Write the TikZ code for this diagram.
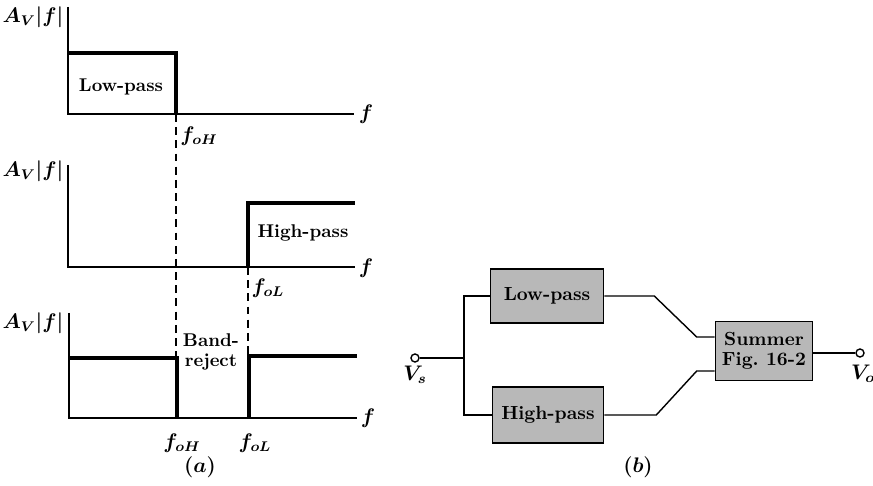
\documentclass[tikz,border=0pt]{standalone}
\usepackage{amsmath,amssymb}
\usepackage{tikz}
\usetikzlibrary{positioning,calc}

\begin{document}
\begin{tikzpicture}[x=0.02cm, y=-0.02cm,
    axis/.style={line width=0.8pt},
    resp/.style={line width=1.9pt},
    guide/.style={line width=0.7pt, dash pattern=on 4.5pt off 3pt},
    lbl/.style={font=\fontsize{11.5}{13}\selectfont\boldmath, inner sep=1pt},
    txt/.style={font=\bfseries\fontsize{10.5}{11.5}\selectfont, align=center, inner sep=1pt},
    blk/.style={draw, line width=0.9pt, fill=black!28, align=center,
                font=\bfseries\fontsize{10.8}{11.6}\selectfont, inner sep=0pt},
    term/.style={draw, circle, line width=0.8pt, fill=white, inner sep=0pt, minimum size=0.16cm},
    wire/.style={line width=0.8pt}]
  \useasboundingbox (0,0) rectangle (873,486);

  % (a) low-pass
  \draw[axis] (68,7) |- (354,114);
  \draw[resp] (68,53) -| (176,114);
  \node (av1) [lbl] at (33,17) {$A_V|f|$};
  \node (f1) [lbl] at (366,114) {$f$};
  \node (foh1) [lbl] at (199,136) {$f_{oH}$};
  \node (lptxt) [txt] at (121,87) {Low-pass};

  % (a) high-pass
  \draw[axis] (68,165) |- (355,267);
  \draw[resp] (248,267) |- (355,203);
  \node (av2) [lbl] at (33,171) {$A_V|f|$};
  \node (f2) [lbl] at (366,268) {$f$};
  \node (fol2) [lbl] at (268,288) {$f_{oL}$};
  \node (hptxt) [txt] at (303,233) {High-pass};

  % (a) band-reject
  \draw[axis] (69,313) |- (357,418);
  \draw[resp] (69,358) -| (177,418);
  \draw[resp] (249,418) |- (357,356);
  \node (av3) [lbl] at (33,323) {$A_V|f|$};
  \node (f3) [lbl] at (368,418) {$f$};
  \node (foh3) [lbl] at (182,443) {$f_{oH}$};
  \node (fol3) [lbl] at (255,443) {$f_{oL}$};
  \node (brtxt) [txt] at (211,352) {Band-\\reject};
  \draw[guide] (176,114) -- (176,358);
  \draw[guide] (248,267) -- (248,356);
  \node (capa) [lbl] at (200,467) {$(a)$};

  % (b) block diagram
  \node (lp) [blk, minimum width=2.26cm, minimum height=1.08cm] at (547,296) {Low-pass};
  \node (hp) [blk, minimum width=2.22cm, minimum height=1.12cm] at (548,415) {High-pass};
  \node (sum) [blk, minimum width=1.94cm, minimum height=1.18cm] at (764,351) {Summer\\Fig.\ 16-2};
  \node (vs) [term] at (415,358) {};
  \node (vo) [term] at (860,353) {};
  \node (vsl) [lbl] at (415,375) {$V_s$};
  \node (vol) [lbl] at (863,374) {$V_o$};
  \coordinate (jn) at (464,358);
  \coordinate (in1) at ($(sum.west)+(0,-14)$);
  \coordinate (in2) at ($(sum.west)+(0,20)$);

  \draw[wire] (vs) -- (jn);
  \draw[wire] (lp.west) -| (jn) |- (hp.west);
  \draw[wire] (lp.east) -- ++(50,0) -- ($(in1)+(-18,0)$) -- (in1);
  \draw[wire] (hp.east) -- ++(52,0) -- ($(in2)+(-18,0)$) -- (in2);
  \draw[wire] (sum.east |- vo) -- (vo);
  \node (capb) [lbl] at (638,467) {$(b)$};
\end{tikzpicture}
\end{document}
